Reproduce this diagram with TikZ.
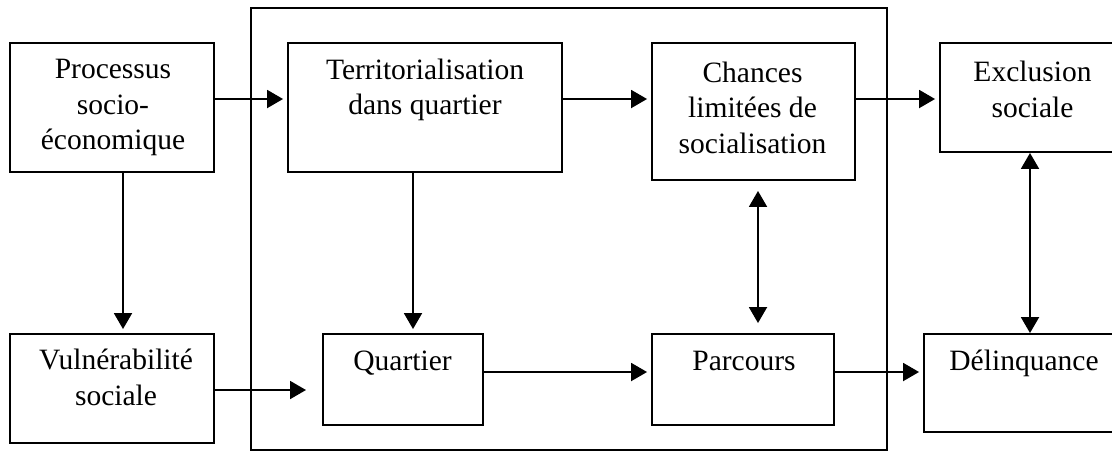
\documentclass[tikz,border=0pt]{standalone}
\usepackage{fontspec}
\setmainfont{Liberation Serif}
\usetikzlibrary{arrows.meta,positioning,calc}

\begin{document}
\begin{tikzpicture}[x=0.02cm,y=-0.02cm,line width=1.1pt,
  >={Triangle[length=0.32cm,width=0.36cm]},
  box/.style={draw,minimum width=#1,inner sep=0pt},
  txt/.style={align=center,inner sep=0pt,font=\fontsize{16.8}{20.2}\selectfont},
  fl/.style={->,shorten >=0.08cm}]
\useasboundingbox (0,0) rectangle (1112,451);
% cadre et boites
\node[box=12.72cm,minimum height=8.84cm] (cadre) at (569,229) {};
\node[box=4.08cm,minimum height=2.58cm] (proc) at (112,107.5) {};
\node[box=4.08cm,minimum height=2.18cm] (vuln) at (112,388.5) {};
\node[box=5.48cm,minimum height=2.58cm] (terr) at (425,107.5) {};
\node[box=4.06cm,minimum height=2.74cm] (chan) at (753.5,111.5) {};
\node[box=3.70cm,minimum height=2.18cm] (excl) at (1032.5,97.5) {};
\node[box=3.20cm,minimum height=1.82cm] (quar) at (403,379.5) {};
\node[box=3.64cm,minimum height=1.82cm] (parc) at (743,379.5) {};
\node[box=4.00cm,minimum height=1.96cm] (delin) at (1024,383) {};
% textes
\node[txt] (procT) at (113,107.5) {Processus\\socio-\\économique};
\node[txt] (vulnT) at (116,377.5) {Vulnérabilité\\sociale};
\node[txt] (terrT) at (425,90) {Territorialisation\\dans quartier};
\node[txt] (chanT) at (752.5,107.5) {Chances\\limitées de\\socialisation};
\node[txt] (exclT) at (1032.5,89.5) {Exclusion\\sociale};
\node[txt,anchor=base] (quarT) at (402.5,370) {Quartier};
\node[txt,anchor=base] (parcT) at (744,370) {Parcours};
\node[txt,anchor=base] (delinT) at (1024,370) {Délinquance};
% lignes et colonnes des fleches
\coordinate (r1) at (0,99);
\coordinate (r2) at (0,372);
\coordinate (r3) at (0,390);
\coordinate (c1) at (123,0);
\coordinate (c2) at (413,0);
\coordinate (c3) at (758,0);
\coordinate (c4) at (1030,0);
\coordinate (vin) at (306,390);
\draw[fl] (proc.east |- r1) -- (terr.west |- r1);
\draw[fl] (terr.east |- r1) -- (chan.west |- r1);
\draw[fl] (chan.east |- r1) -- (excl.west |- r1);
\draw[fl] (proc.south -| c1) -- (vuln.north -| c1);
\draw[fl] (terr.south -| c2) -- (quar.north -| c2);
\draw[->] (vuln.east |- r3) -- (vin);
\draw[fl] (quar.east |- r2) -- (parc.west |- r2);
\draw[fl] (parc.east |- r2) -- (delin.west |- r2);
\draw[<->,shorten <=0.2cm,shorten >=0.2cm] (chan.south -| c3) -- (parc.north -| c3);
\draw[<->] (excl.south -| c4) -- (delin.north -| c4);
\end{tikzpicture}
\end{document}
